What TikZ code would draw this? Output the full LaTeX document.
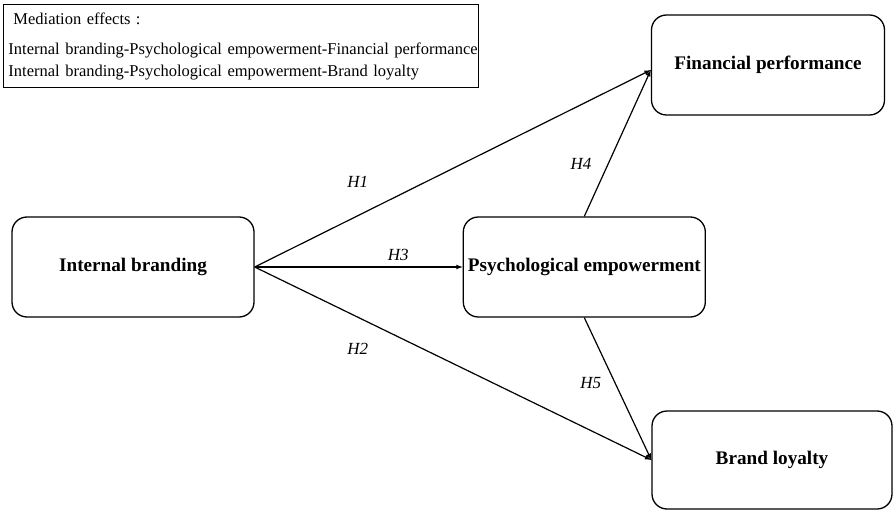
\documentclass[tikz,border=0pt]{standalone}
\usepackage{fontspec}
\setmainfont{Liberation Serif}
\usetikzlibrary{positioning}
\begin{document}
\begin{tikzpicture}[
                                x = 1pt, y = -1pt,
                                >= latex,
                                line width = 1.2pt
                                ]

                                \tikzstyle{point}=[
                                        draw = black,
                                        rounded corners = 15pt,
                                        line width = 1.3pt,
                                        fill = white,
                                        inner sep = 1pt,
                                        minimum width = 242pt,
                                        minimum height = 100pt,
                                        font = \fontsize{19.2}{23}\selectfont\bfseries
                                ]
                                \tikzstyle{hyp}=[
                                        font = \fontsize{17}{20}\selectfont\itshape
                                ]

                                \useasboundingbox (0,0) rectangle (893,510);

                                \node[point] (1) at (133,267) {Internal branding};
                                \node[point] (2) [right=208pt of 1] {Psychological empowerment};
                                \node[point, minimum width=233pt] (3) at (768,65) {Financial performance};
                                \node[point, minimum width=240pt, minimum height=98pt] (4) at (772,460) {Brand loyalty};
                                \node[draw, line width=1pt, anchor=north west, text width=465pt,
                                      inner xsep=5pt, inner ysep=8pt, align=left,
                                      font=\fontsize{16.5}{22}\selectfont] (5) at (3,4)
                                      {\hspace*{5pt}Mediation effects :\\[8pt]
                                       \mbox{Internal branding-Psychological empowerment-Financial performance}\\
                                       \mbox{Internal branding-Psychological empowerment-Brand loyalty}};

                                \draw[->] (1.east) -- ([yshift=-5pt]3.west) node [hyp, pos=0.26, above=24pt] {H1};
                                \draw[->] (1.east) -- (4.west) node [hyp, pos=0.26, below=22pt] {H2};
                                \draw[->] (1.east) -- (2.west) node [hyp, pos=0.69, above=2pt] {H3};
                                \draw[->] (2.north) -- ([yshift=-5pt]3.west) node [hyp, pos=0.36, left=13pt] {H4};
                                \draw[->] (2.south) -- (4.west) node [hyp, pos=0.46, left=10pt] {H5};
\end{tikzpicture}
\end{document}
